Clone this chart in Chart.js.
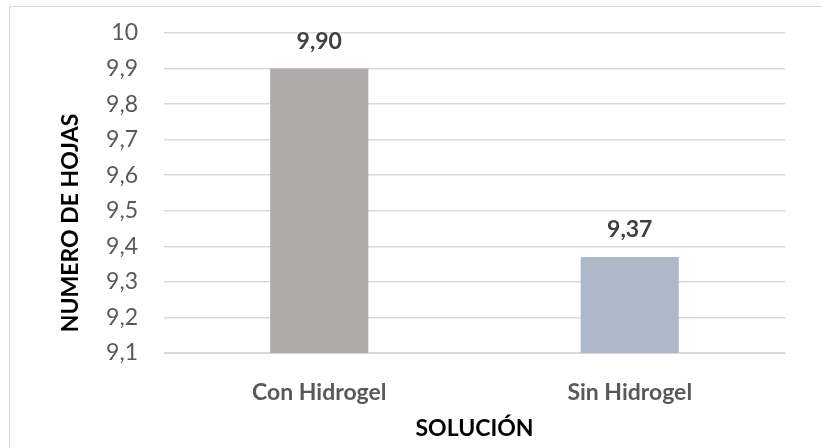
<!DOCTYPE html>
<html lang="es">
<head>
<meta charset="utf-8">
<title>Número de hojas por solución</title>
<script src="https://cdn.jsdelivr.net/npm/chart.js@4.4.1/dist/chart.umd.min.js"></script>
<style>
  html, body { margin: 0; padding: 0; background: #fff; overflow: hidden; }
  #marco {
    position: absolute; left: 9px; top: 6px; width: 830px; height: 460px;
    border: 1px solid #D9D9D9; box-sizing: border-box;
  }
  #wrap { position: absolute; left: 0; top: 0; width: 822px; height: 448px; }
</style>
</head>
<body>
<div id="marco"></div>
<div id="wrap"><canvas id="myChart" width="822" height="448"></canvas></div>
<script>
const categorias = ["Con Hidrogel", "Sin Hidrogel"];
const hojas = [9.90, 9.37];
const coloresBarras = ["#AEAAAA", "#ADB9CA"];
const ejeYMin = 9.1;
const ejeYMax = 10;
const ejeYPaso = 0.1;

const fuente = "Lato, 'Open Sans', sans-serif";

function formatoComa(valor, decimales) {
    return valor.toFixed(decimales).replace(".", ",");
}

// Etiquetas de valor encima de cada barra
const etiquetasValor = {
    id: "etiquetasValor",
    afterDatasetsDraw(chart) {
        const ctx = chart.ctx;
        const meta = chart.getDatasetMeta(0);
        ctx.save();
        ctx.font = "bold 23px " + fuente;
        ctx.fillStyle = "#404040";
        ctx.textAlign = "center";
        ctx.textBaseline = "middle";
        meta.data.forEach((barra, i) => {
            ctx.fillText(formatoComa(hojas[i], 2), barra.x, barra.y - 27);
        });
        ctx.restore();
    }
};

// Título vertical del eje Y
const tituloEjeY = {
    id: "tituloEjeY",
    afterDraw(chart) {
        const ctx = chart.ctx;
        const area = chart.chartArea;
        ctx.save();
        ctx.translate(area.left - 93, (area.top + area.bottom) / 2 + 30);
        ctx.rotate(-Math.PI / 2);
        ctx.font = "bold 23px " + fuente;
        ctx.fillStyle = "#000";
        ctx.textAlign = "center";
        ctx.textBaseline = "middle";
        ctx.fillText("NUMERO DE HOJAS", 0, 0);
        ctx.restore();
    }
};

const ctx = document.getElementById("myChart").getContext("2d");

new Chart(ctx, {
    type: "bar",
    data: {
        labels: categorias,
        datasets: [{
            data: hojas,
            backgroundColor: coloresBarras,
            borderWidth: 0,
            categoryPercentage: 1,
            barPercentage: 0.316
        }]
    },
    options: {
        responsive: false,
        animation: false,
        layout: { padding: { top: 33, right: 37, bottom: 0, left: 0 } },
        plugins: {
            legend: { display: false },
            tooltip: { enabled: false }
        },
        scales: {
            x: {
                grid: { display: false, drawTicks: false },
                border: { color: "#D9D9D9" },
                ticks: {
                    padding: 26,
                    color: "#595959",
                    font: { family: fuente, size: 23, weight: "bold" }
                },
                title: {
                    display: true,
                    text: "SOLUCIÓN",
                    color: "#000",
                    padding: { top: 0, bottom: 6 },
                    font: { family: fuente, size: 23, weight: "bold" }
                },
                afterFit(scale) { scale.height = 95; }
            },
            y: {
                min: ejeYMin,
                max: ejeYMax,
                grid: { color: "#D9D9D9", lineWidth: 1.5, drawTicks: false },
                border: { display: false },
                ticks: {
                    stepSize: ejeYPaso,
                    padding: 26,
                    color: "#595959",
                    font: { family: fuente, size: 23 },
                    callback: (valor) => {
                        const v = Number(valor.toFixed(1));
                        return Number.isInteger(v) ? String(v) : formatoComa(v, 1);
                    }
                },
                afterFit(scale) {
                    scale.width = 164;
                    // el relleno de las etiquetas no debe mover el área del gráfico
                    scale.paddingTop = 0;
                    scale.paddingBottom = 0;
                }
            }
        }
    },
    plugins: [etiquetasValor, tituloEjeY]
});
</script>
</body>
</html>
